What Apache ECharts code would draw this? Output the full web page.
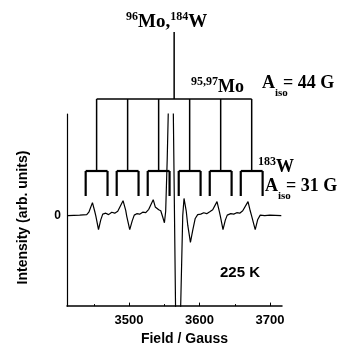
<!DOCTYPE html>
<html>
<head>
<meta charset="utf-8">
<script src="https://cdn.jsdelivr.net/npm/echarts@6/dist/echarts.min.js"></script>
<style>
  html, body { margin: 0; padding: 0; background: #fff; }
  #chart { width: 354px; height: 351px; }
</style>
</head>
<body>
<div id="chart"></div>
<script>
// EPR spectrum, 225 K
const fieldG = [3413, 3430, 3440, 3443, 3448.1, 3451.3, 3452.8, 3456.7, 3459.9, 3462.7,
  3467, 3471, 3475.5, 3479.7, 3484, 3491.5, 3495.3, 3496.7, 3501, 3504.5,
  3507.4, 3511, 3515, 3519.4, 3523.7, 3528, 3534.3, 3537.2, 3539.9, 3542.1,
  3545, 3548, 3550.2, 3552, 3554.2, 3557.3, 3562, 3567, 3571.2, 3576.2,
  3578, 3581.1, 3583.3, 3587.1, 3590.4, 3593.9, 3597.4, 3601.7, 3606, 3610.2,
  3614.5, 3618.7, 3624.8, 3627.9, 3629.4, 3633.3, 3636.5, 3639.3, 3644.3, 3648.5,
  3652.8, 3657, 3661.3, 3668.8, 3671.9, 3673.8, 3679, 3682.6, 3686.1, 3692.5,
  3699.6, 3716];
const intensity = [0, 0.5, 1, 3.5, 13.5, 4.5, 0, -14.5, -4.5, 1.5,
  2.5, 1, 3.5, 2.5, 4.5, 15.5, 5.5, -0.5, -14.5, -5.5,
  0.5, 2, 1.5, 3.5, 3, 6.5, 16.5, 9, 9.5, 6,
  5, -2, -7.5, 4.5, 59.5, 160, 160, -160, -160, 0,
  17.8, 5, -10, -27.8, -15, -3, 1, 1.5, 3, 2,
  4, 6, 14.5, 5, 0, -14.5, -5, 0.5, 2, 1.5,
  3, 2.5, 5, 14.5, 5, 0, -14.5, -4, 0.5, 0,
  0.5, 0];

// stick diagram: 95,97Mo sextet (A = 44 G), each split by 183W (A = 31 G)
const moCenter = 3564;
const moLines = [3454, 3498, 3542, 3586, 3630, 3674];
const wSplit = 31;

const majorTicks = [3500, 3600, 3700];
const minorTicks = [3450, 3550, 3650];

const fieldMin = 3412, fieldMax = 3717;

// diagram levels (grid 1 units)
const stemTop = 164, moBar = 97, wBar = 25, wFoot = 0;

const segs = [];
segs.push([moCenter, stemTop, moCenter, moBar, 1.5]);
segs.push([moLines[0], moBar, moLines[moLines.length - 1], moBar, 1.5]);
moLines.forEach(m => {
  const a = m - wSplit / 2, b = m + wSplit / 2;
  segs.push([m, moBar, m, wBar, 1.5]);
  segs.push([a, wBar, b, wBar, 2.2]);
  segs.push([a, wBar, a, wFoot, 2.2]);
  segs.push([b, wBar, b, wFoot, 2.2]);
});

const serif = '"Liberation Serif", "Times New Roman", serif';
const sans = '"Liberation Sans", Arial, sans-serif';
const richStyle = (big) => ({
  b: { fontFamily: serif, fontWeight: 'bold', fontSize: big, lineHeight: 22, color: '#000' },
  s: { fontFamily: serif, fontWeight: 'bold', fontSize: 12, lineHeight: 12, verticalAlign: 'top', color: '#000' },
  i: { fontFamily: serif, fontWeight: 'bold', fontSize: 11, lineHeight: 12, width: 8, padding: [16, 0, 0, 0], verticalAlign: 'top', color: '#000' }
});

const chart = echarts.init(document.getElementById('chart'), null, { renderer: 'canvas' });
chart.setOption({
  backgroundColor: '#ffffff',
  animation: false,
  grid: [
    { left: 67, right: 72, top: 114, bottom: 38 },
    { left: 67, right: 72, top: 32, height: 164 }
  ],
  xAxis: [
    {
      type: 'value', gridIndex: 0, min: fieldMin, max: fieldMax,
      name: 'Field / Gauss', nameLocation: 'middle', nameGap: 24,
      nameTextStyle: { fontFamily: sans, fontWeight: 'bold', fontSize: 14, color: '#000', padding: [0, 0, 0, 20] },
      axisLine: { onZero: false, lineStyle: { color: '#000', width: 1.5 } },
      axisTick: { inside: true, length: 3.5, customValues: majorTicks, lineStyle: { color: '#000' } },
      axisLabel: { customValues: majorTicks, formatter: v => String(v), margin: 8, fontFamily: sans, fontWeight: 'bold', fontSize: 13, color: '#000' },
      splitLine: { show: false }
    },
    {
      type: 'value', gridIndex: 0, min: fieldMin, max: fieldMax, position: 'bottom',
      axisLine: { show: false, onZero: false },
      axisTick: { inside: true, length: 2, customValues: minorTicks, lineStyle: { color: '#000' } },
      axisLabel: { show: false },
      splitLine: { show: false }
    },
    {
      type: 'value', gridIndex: 1, min: fieldMin, max: fieldMax, show: false
    }
  ],
  yAxis: [
    {
      type: 'value', gridIndex: 0, min: -94, max: 105.5,
      name: 'Intensity (arb. units)', nameLocation: 'middle', nameGap: 37,
      nameTextStyle: { fontFamily: sans, fontWeight: 'bold', fontSize: 14, color: '#000', padding: [0, 15, 0, 0] },
      axisLine: { show: true, onZero: false, lineStyle: { color: '#000', width: 1.2 } },
      axisTick: { show: true, inside: true, length: 3, customValues: [0], lineStyle: { color: '#000' } },
      axisLabel: { customValues: [0], margin: 6, fontFamily: sans, fontWeight: 'bold', fontSize: 12, color: '#000' },
      splitLine: { show: false }
    },
    {
      type: 'value', gridIndex: 1, min: 0, max: 164, show: false
    }
  ],
  series: [
    {
      type: 'line', xAxisIndex: 0, yAxisIndex: 0,
      data: fieldG.map((g, i) => [g, intensity[i]]),
      showSymbol: false, symbol: 'none', clip: true,
      lineStyle: { color: '#000', width: 1.2 }
    },
    {
      type: 'custom', xAxisIndex: 2, yAxisIndex: 1,
      data: segs,
      encode: { x: [0, 2], y: [1, 3] },
      renderItem: (params, api) => {
        const p1 = api.coord([api.value(0), api.value(1)]);
        const p2 = api.coord([api.value(2), api.value(3)]);
        return {
          type: 'line',
          shape: { x1: p1[0], y1: p1[1], x2: p2[0], y2: p2[1] },
          style: { stroke: '#000', lineWidth: api.value(4) }
        };
      }
    }
  ],
  graphic: [
    { type: 'text', left: 126, top: 11, style: { text: '{s|96}{b|Mo,}{s|184}{b|W}', rich: richStyle(19) } },
    { type: 'text', left: 191, top: 76, style: { text: '{s|95,97}{b|Mo}', rich: richStyle(18) } },
    { type: 'text', left: 262, top: 72, style: { text: '{b|A}{i|iso}{b|= 44 G}', rich: richStyle(18) } },
    { type: 'text', left: 258, top: 156, style: { text: '{s|183}{b|W}', rich: richStyle(18) } },
    { type: 'text', left: 265, top: 175, style: { text: '{b|A}{i|iso}{b|= 31 G}', rich: richStyle(18) } },
    { type: 'text', left: 220, top: 265, style: { text: '225 K', fontFamily: sans, fontWeight: 'bold', fontSize: 15, fill: '#000' } }
  ]
});
</script>
</body>
</html>
